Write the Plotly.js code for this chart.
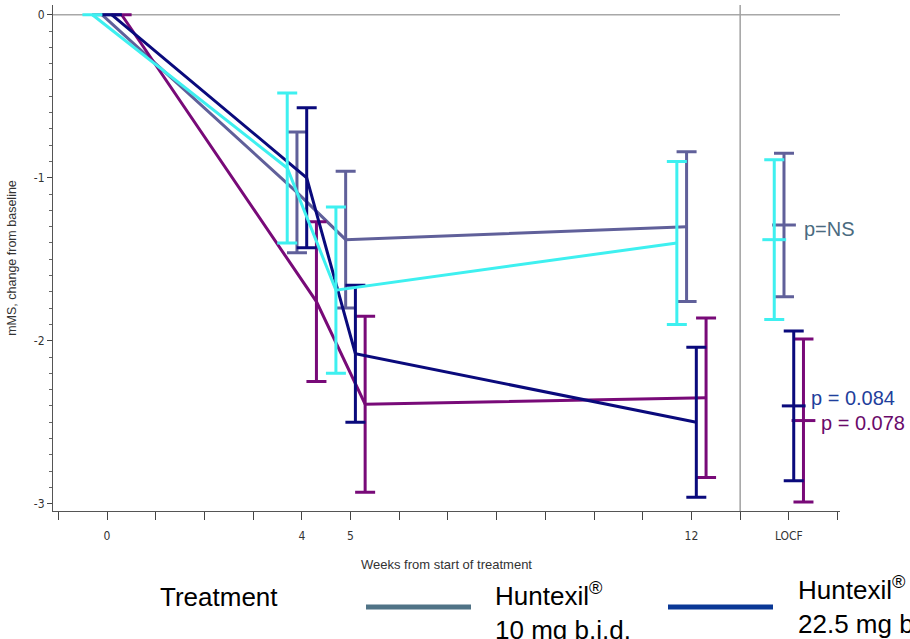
<!DOCTYPE html>
<html>
<head>
<meta charset="utf-8">
<script src="https://cdn.plot.ly/plotly-3.0.1.min.js"></script>
<style>
  html, body { margin: 0; padding: 0; background: #fff; }
  #chart { width: 910px; height: 639px; }
</style>
</head>
<body>
<div id="chart"></div>
<script>
// ---- data ----
const weeks = [0, 4, 5, 12];
const locfWeek = 14;
const tickVals = [-1, 0, 1, 2, 3, 4, 5, 6, 7, 8, 9, 10, 11, 12, 13, 14, 15];
const tickText = ['', '0', '', '', '', '4', '5', '', '', '', '', '', '', '12', '', 'LOCF', ''];

const seriesNames = ['Huntexil® 10 mg b.i.d.', 'Huntexil® 45 mg b.i.d.', 'Huntexil® 22.5 mg b.i.d.', 'Placebo'];

const mean10 = [0, -1.09, -1.38, -1.30];
const err10 = [0, 0.37, 0.42, 0.46];
const locf10 = -1.29, locfErr10 = 0.44;

const mean45 = [0, -1.76, -2.39, -2.35];
const err45 = [0, 0.49, 0.54, 0.49];
const locf45 = -2.49, locfErr45 = 0.50;

const mean22 = [0, -1.00, -2.08, -2.50];
const err22 = [0, 0.43, 0.42, 0.46];
const locf22 = -2.40, locfErr22 = 0.46;

const meanPbo = [0, -0.94, -1.69, -1.40];
const errPbo = [0, 0.46, 0.51, 0.50];
const locfPbo = -1.38, locfErrPbo = 0.49;

const pLabels = ['p=NS', 'p = 0.084', 'p = 0.078'];

// ---- styling ----
const colors = ['#60609a', '#780a78', '#0a0a7c', '#3ef0f0'];
const dodge = [-0.1, 0.3, 0.1, -0.3];
const means = [mean10, mean45, mean22, meanPbo];
const errs = [err10, err45, err22, errPbo];
const locfs = [locf10, locf45, locf22, locfPbo];
const locfErrs = [locfErr10, locfErr45, locfErr22, locfErrPbo];

const traces = [];
means.forEach((m, i) => {
  const common = {
    type: 'scatter',
    name: seriesNames[i],
    showlegend: false,
    cliponaxis: false,
    hoverinfo: 'skip'
  };
  traces.push(Object.assign({}, common, {
    x: weeks.map(w => w + dodge[i]),
    y: m,
    mode: 'lines',
    line: { color: colors[i], width: 3 },
    error_y: { type: 'data', array: errs[i], visible: true, color: colors[i], thickness: 3, width: 10 }
  }));
  traces.push(Object.assign({}, common, {
    x: [locfWeek + dodge[i]],
    y: [locfs[i]],
    mode: 'markers',
    marker: { symbol: 'line-ew', size: 17, color: colors[i], line: { color: colors[i], width: 3 } },
    error_y: { type: 'data', array: [locfErrs[i]], visible: true, color: colors[i], thickness: 3, width: 10 }
  }));
});

// plot geometry helpers for paper-coordinate placement of the legend
const L = 53, R = 70, T = 5, B = 128, W = 910, H = 639;
const pw = W - L - R, ph = H - T - B;
const px = x => (x - L) / pw;
const py = y => (H - B - y) / ph;

const legendFont = { family: 'Liberation Sans, Arial, sans-serif', size: 26, color: '#000' };

const layout = {
  width: W, height: H,
  margin: { l: L, r: R, t: T, b: B, pad: 0 },
  paper_bgcolor: '#fff',
  plot_bgcolor: '#fff',
  showlegend: false,
  font: { family: 'Liberation Sans, Arial, sans-serif', color: '#333' },
  xaxis: {
    range: [-1.109, 15.05],
    tickmode: 'array', tickvals: tickVals, ticktext: tickText,
    ticks: 'outside', ticklen: 8, tickwidth: 1, tickcolor: '#444',
    showline: true, linecolor: '#555', linewidth: 1,
    showgrid: false, zeroline: false,
    tickfont: { family: 'Liberation Sans Narrow, DejaVu Sans Condensed, Arial Narrow, sans-serif', size: 12, color: '#333' },
    ticklabelstandoff: 6,
    title: { text: 'Weeks from start of treatment', standoff: 17,
             font: { family: 'Liberation Sans, Arial, sans-serif', size: 13, color: '#333' } }
  },
  yaxis: {
    range: [-3.045, 0.06],
    tickmode: 'array', tickvals: [0, -1, -2, -3], ticktext: ['0', '-1', '-2', '-3'],
    ticks: 'outside', ticklen: 5, tickwidth: 1, tickcolor: '#444',
    minor: { dtick: 0.1, tick0: 0, ticks: 'outside', ticklen: 3, tickcolor: '#666', showgrid: false },
    showline: true, linecolor: '#555', linewidth: 1,
    showgrid: false, zeroline: false,
    tickfont: { family: 'Liberation Sans Narrow, DejaVu Sans Condensed, Arial Narrow, sans-serif', size: 12, color: '#333' },
    title: { text: 'mMS, change from baseline', standoff: 14,
             font: { family: 'Liberation Sans, Arial, sans-serif', size: 12.5, color: '#333' } }
  },
  shapes: [
    { type: 'line', xref: 'paper', yref: 'y', x0: 0, x1: 1, y0: 0, y1: 0, line: { color: '#a8a8a8', width: 1.5 }, layer: 'below' },
    { type: 'line', xref: 'x', yref: 'paper', x0: 13, x1: 13, y0: 0, y1: 1, line: { color: '#a0a0a0', width: 1.5 }, layer: 'below' },
    { type: 'line', xref: 'paper', yref: 'paper', x0: px(366), x1: px(471), y0: py(607), y1: py(607), line: { color: '#507386', width: 5 } },
    { type: 'line', xref: 'paper', yref: 'paper', x0: px(668), x1: px(773), y0: py(607), y1: py(607), line: { color: '#0a3896', width: 5 } }
  ],
  annotations: [
    { xref: 'x', yref: 'y', x: 14.27, y: -1.313, text: pLabels[0], showarrow: false, xanchor: 'left', yanchor: 'middle',
      font: { family: 'Liberation Sans, Arial, sans-serif', size: 20, color: '#4a6b80' } },
    { xref: 'x', yref: 'y', x: 14.42, y: -2.35, text: pLabels[1], showarrow: false, xanchor: 'left', yanchor: 'middle',
      font: { family: 'Liberation Sans, Arial, sans-serif', size: 20, color: '#1f3f9c' } },
    { xref: 'x', yref: 'y', x: 14.62, y: -2.503, text: pLabels[2], showarrow: false, xanchor: 'left', yanchor: 'middle',
      font: { family: 'Liberation Sans, Arial, sans-serif', size: 20, color: '#6a0a6a' } },
    { xref: 'paper', yref: 'paper', x: px(158), y: py(597), text: 'Treatment', showarrow: false, xanchor: 'left', yanchor: 'middle', font: legendFont },
    { xref: 'paper', yref: 'paper', x: px(493), y: py(611), text: 'Huntexil<sup>®</sup><br>10 mg b.i.d.', showarrow: false,
      xanchor: 'left', yanchor: 'middle', align: 'left', font: legendFont },
    { xref: 'paper', yref: 'paper', x: px(796), y: py(605), text: 'Huntexil<sup>®</sup><br>22.5 mg b.i.d.', showarrow: false,
      xanchor: 'left', yanchor: 'middle', align: 'left', font: legendFont }
  ]
};

Plotly.newPlot('chart', traces, layout, { displayModeBar: false, staticPlot: true });
</script>
</body>
</html>
